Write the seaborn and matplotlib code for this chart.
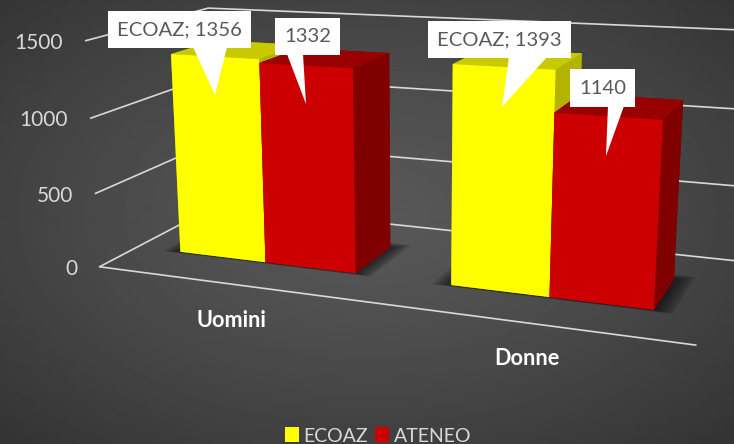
import numpy as np
import pandas as pd
import matplotlib
matplotlib.use("Agg")
import matplotlib.pyplot as plt
from matplotlib.patches import Patch, Polygon, Rectangle
from mpl_toolkits.mplot3d.art3d import Poly3DCollection
import seaborn as sns

# ---------- data ----------
categories = ["Uomini", "Donne"]
series_names = ["ECOAZ", "ATENEO"]
ecoaz_values = [1356, 1393]
ateneo_values = [1332, 1140]
value_ticks = [0, 500, 1000, 1500]

# ---------- style ----------
sns.set_theme(style="dark")
plt.rcParams["font.family"] = ["Lato", "DejaVu Sans"]
front_colors = sns.color_palette(["#FFFF00", "#CC0000"])
top_colors = sns.color_palette(["#C9C900", "#990000"])
side_colors = sns.color_palette(["#B3B300", "#800000"])
W, H = 734, 444
LIGHT = "#D9D9D9"

# ---------- camera: fitted on the reference's axis box ----------
cal_world = np.array([
    (0, 0, 0), (2, 0, 0), (0, 0, 1500), (0, 0, 500), (0, 0, 1000),
    (0, 1, 0), (0, 1, 1500), (2, 1, 0), (2, 1, 1500),
    (.174, .3, 0), (.855, .3, 0), (1.19, .3, 0), (1.848, .3, 0),
    (.174, .3, 1356), (.855, .3, 1332), (1.19, .3, 1393), (1.848, .3, 1140),
    (.855, .7, 0), (.855, .7, 1332), (1.848, .7, 0), (1.848, .7, 1140),
], dtype=float)
cal_pixel = np.array([
    (100, 268), (697, 345), (85, 40), (95, 194), (90, 118),
    (215, 206), (210, 7), (745, 260), (760, 35),
    (180, 252), (357, 273), (451, 284), (656, 309),
    (172, 53), (354, 68), (453, 65), (665, 122),
    (391, 245), (391, 53), (673, 272), (682, 101),
], dtype=float)
cal_weight = [4, 4, 4, 4, 4, 2, 2, 2, 2, 1, 1, 1, 1, 1, 1, 1, 1, 1, 1, 1.5, 1.5]


def fit_camera(world, pixel, weight):
    w = world * [1, 1, 1 / 1500]
    p = pixel / W
    rows = []
    for (x, y, z), (u, v), k in zip(w, p, weight):
        rows.append([k * c for c in (x, y, z, 1, 0, 0, 0, 0, -u * x, -u * y, -u * z, -u)])
        rows.append([k * c for c in (0, 0, 0, 0, x, y, z, 1, -v * x, -v * y, -v * z, -v)])
    P = np.linalg.svd(np.array(rows))[2][-1].reshape(3, 4)
    P = np.diag([W, W, 1.0]) @ P @ np.diag([1, 1, 1 / 1500, 1])
    centre = np.array([1, .5, 750, 1])
    return P / (P[2] @ centre)


P = fit_camera(cal_world, cal_pixel, cal_weight)


def to_pixel(x, y, z):
    h = P @ np.array([x, y, z, 1.0])
    return h[0] / h[2], h[1] / h[2]


fig = plt.figure(figsize=(W / 100, H / 100), dpi=100)

# background: radial dark gradient
bg = fig.add_axes([0, 0, 1, 1], zorder=0)
yy, xx = np.mgrid[0:H, 0:W]
r = np.hypot((xx - W / 2) / (W / 2), (yy - H * .48) / (H / 2)) / np.sqrt(2)
bg.imshow(0.345 - 0.14 * r ** 1.3, cmap="gray", vmin=0, vmax=1, aspect="auto")
bg.set_axis_off()
bg.set_xticks([])
bg.set_yticks([])

# 3D axes driven by the fitted camera
ax = fig.add_axes([0, 0, 1, 1], projection="3d", zorder=1)
ax.set_proj_type("ortho")          # keeps Line3D from clipping on the custom depth row
ax.set_facecolor("none")
ax.set_axis_off()
ax.set_xticks([])
ax.set_yticks([])
ax.set_zticks([])
ax.computed_zorder = False
ax.apply_aspect = lambda position=None: None
x0, x1 = ax.viewLim.intervalx
y0, y1 = ax.viewLim.intervaly
M = np.vstack([
    P[0] * (x1 - x0) / W + P[2] * x0,
    (H * P[2] - P[1]) * (y1 - y0) / H + P[2] * y0,
    P[2] - np.array([0, 0, 0, .5]),
    P[2],
])
ax.get_proj = lambda: M

# overlay in pixels for all text and callouts
ov = fig.add_axes([0, 0, 1, 1], zorder=5)
ov.set_xlim(0, W)
ov.set_ylim(H, 0)
ov.set_xticks([])
ov.set_yticks([])
ov.set_axis_off()
ov.patch.set_alpha(0)

# gridlines on the walls and the floor edge
for v in value_ticks:
    ax.plot([0, 0, 2], [0, 1, 1], [v, v, v], color=LIGHT, lw=1.2, zorder=2, solid_capstyle="butt")
    px, py = to_pixel(0, 0, v)
    ov.text(px - 22, py + 2, str(v), ha="right", va="center", color=LIGHT, fontsize=15)
ax.plot([0, 2], [0, 0], [0, 0], color=LIGHT, lw=1.2, zorder=2)

# bars
df = pd.DataFrame({"cat": categories, "ECOAZ": ecoaz_values, "ATENEO": ateneo_values})
group_starts = [.174, 1.18]
bar_widths = [.335, .325]
y_front, y_depth = .30, .375
z = 10
for start, bar_w, row in zip(group_starts, bar_widths, df.itertuples()):
    # soft contact shadow on the floor, mostly behind and beside the bars
    for grow in (.06, .05, .04, .03, .02, .01):
        xa, xb = start - grow, start + 2 * bar_w + grow
        ya, yb = y_front - grow * .3, y_front + y_depth + grow
        ax.add_collection3d(Poly3DCollection(
            [[(xa, ya, 0), (xb, ya, 0), (xb, yb, 0), (xa, yb, 0)]],
            facecolors=[(0, 0, 0, .12)], edgecolors="none", zorder=z))
        z += 1
    for i, val in enumerate((row.ECOAZ, row.ATENEO)):
        faces = [side_colors[i], top_colors[i], front_colors[i],
                 side_colors[i], side_colors[i], side_colors[i]]
        ax.bar3d(start + i * bar_w, y_front, 0, bar_w, y_depth, val,
                 color=faces, shade=False, edgecolor="none", zorder=z)
        z += 1

# category labels under each group
for start, bar_w, name in zip(group_starts, bar_widths, categories):
    px, py = to_pixel(start + bar_w, 0, 0)
    ov.text(px, py + 36, name, ha="center", va="center", color="white",
            fontsize=15.6, fontweight="bold")

# data-label callouts
labels = [f"{series_names[0]}; {ecoaz_values[0]}", f"{ateneo_values[0]}",
          f"{series_names[0]}; {ecoaz_values[1]}", f"{ateneo_values[1]}"]
boxes = [(108, 11, 251, 48), (275, 18, 340, 55), (428, 21, 571, 58), (570, 69, 635, 107)]
bases = [(193, 227), (287, 303), (509, 547), (608, 624)]
tips = [(215, 95), (306, 104), (502, 107), (606, 156)]
for txt, (l, t, rr, b), (ba, bb), tip in zip(labels, boxes, bases, tips):
    ov.add_patch(Rectangle((l, t), rr - l, b - t, fc="white", ec="none"))
    ov.add_patch(Polygon([(ba, b - 1), (bb, b - 1), tip], fc="white", ec="none"))
    ov.text((l + rr) / 2, (t + b) / 2, txt, ha="center", va="center", color="#595959", fontsize=14.6)

# legend
handles = [Patch(fc=c, ec="none") for c in front_colors]
fig.legend(handles, series_names, loc="center", bbox_to_anchor=(378 / W, 1 - 436 / H), ncol=2,
           frameon=False, fontsize=14, labelcolor=LIGHT, handlelength=.72, handleheight=.8,
           handletextpad=.25, columnspacing=.35)

fig.savefig("out.png", dpi=100)
